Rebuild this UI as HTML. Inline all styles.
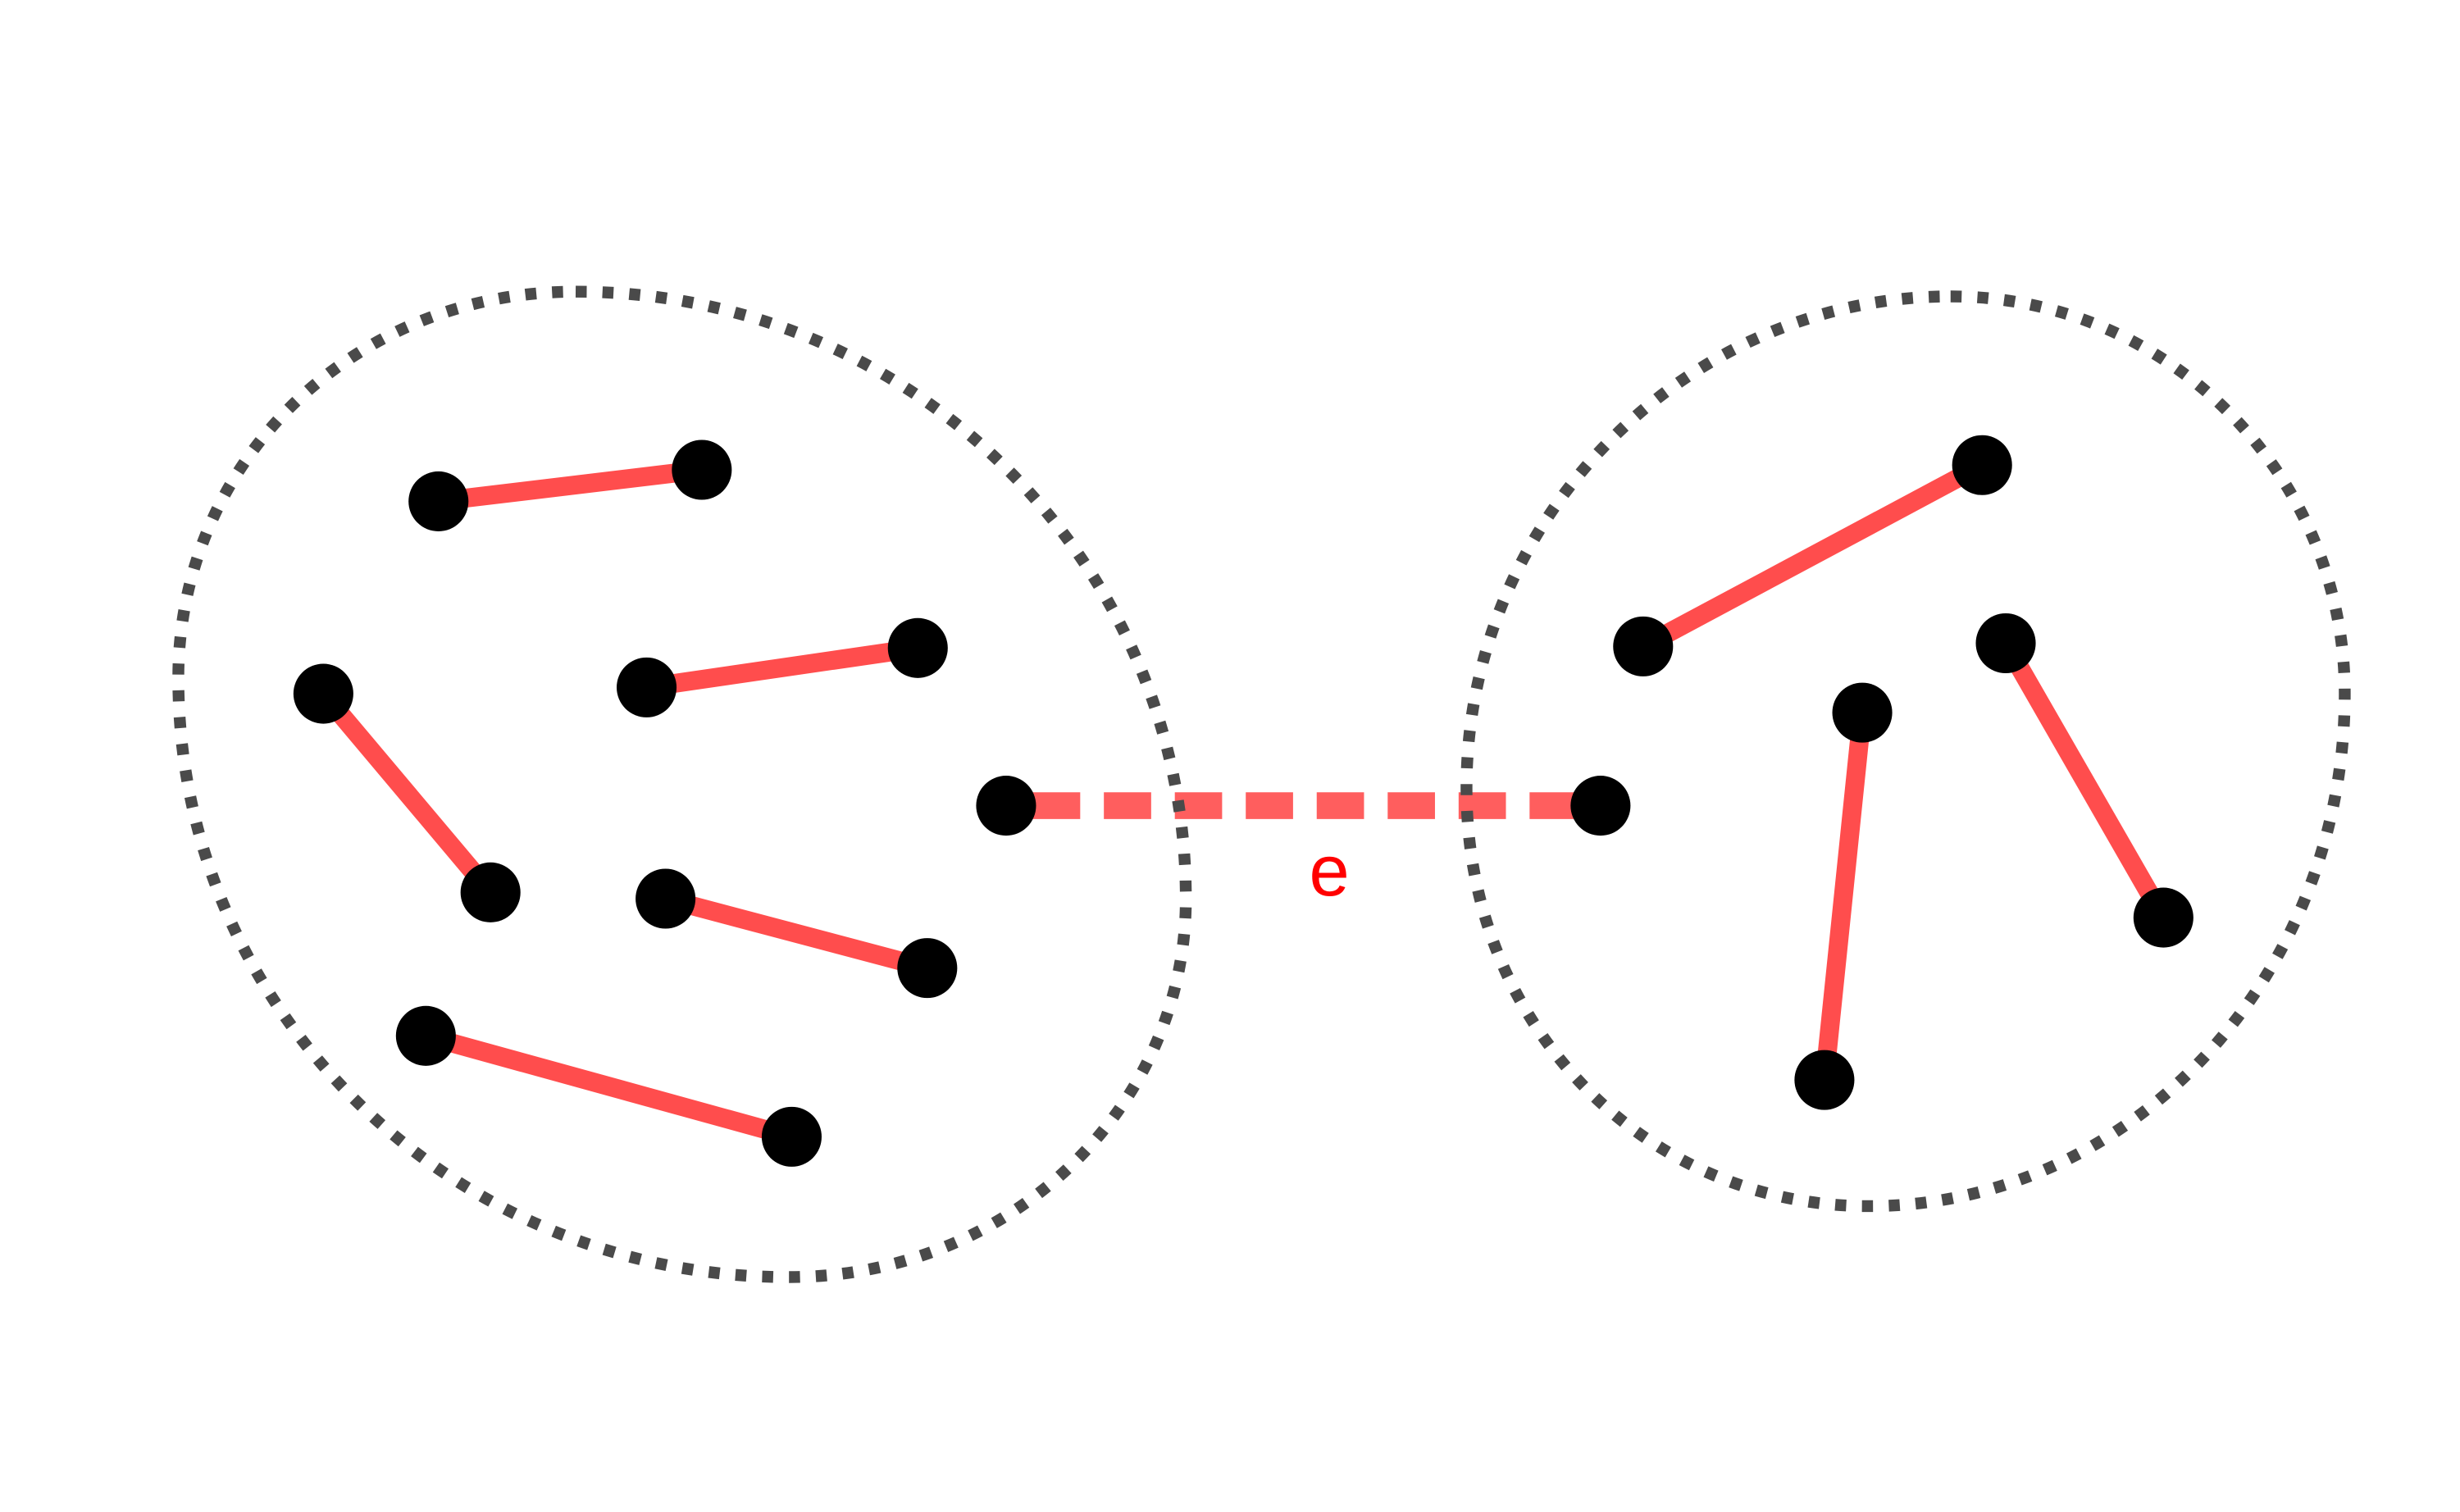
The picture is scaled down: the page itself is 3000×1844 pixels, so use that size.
<!DOCTYPE html>
<html><head><style>html,body{margin:0;padding:0;background:#fff}svg{display:block}</style></head>
<body>
<svg width="3000" height="1844" viewBox="0 0 1560 959" xmlns="http://www.w3.org/2000/svg">
<rect width="1560" height="959" fill="#fff"/>
<g stroke="#ff4d4d" stroke-width="12" stroke-linecap="butt">
<line x1="278" y1="318" x2="445" y2="298"/>
<line x1="205" y1="440" x2="311" y2="566"/>
<line x1="410" y1="436" x2="582" y2="411"/>
<line x1="422" y1="570" x2="588" y2="614"/>
<line x1="270" y1="657" x2="502" y2="721"/>
<line x1="1042" y1="410" x2="1257" y2="295"/>
<line x1="1181" y1="452" x2="1157" y2="685"/>
<line x1="1272" y1="408" x2="1372" y2="582"/>
<line x1="655" y1="511" x2="1000" y2="511" stroke-width="17" stroke-dasharray="30 15" opacity="0.9"/>
</g>
<g fill="none" stroke="#4a4a4a" stroke-width="7.5" stroke-dasharray="7 10">
<path d="M365,185 C579,185 752,357 752,570 C752,703 640,810 500,810 C286,810 113,640 113,430 C113,295 222,185 365,185 Z"/>
<path d="M1237,188 C1375,188 1487,301 1487,440 C1487,619 1352,765 1185,765 C1044,765 930,651 930,500 C930,328 1070,188 1237,188 Z"/>
</g>
<g fill="#000">
<circle cx="278" cy="318" r="19"/><circle cx="445" cy="298" r="19"/>
<circle cx="205" cy="440" r="19"/><circle cx="311" cy="566" r="19"/>
<circle cx="410" cy="436" r="19"/><circle cx="582" cy="411" r="19"/>
<circle cx="422" cy="570" r="19"/><circle cx="588" cy="614" r="19"/>
<circle cx="270" cy="657" r="19"/><circle cx="502" cy="721" r="19"/>
<circle cx="638" cy="511" r="19"/><circle cx="1015" cy="511" r="19"/>
<circle cx="1042" cy="410" r="19"/><circle cx="1257" cy="295" r="19"/>
<circle cx="1181" cy="452" r="19"/><circle cx="1157" cy="685" r="19"/>
<circle cx="1272" cy="408" r="19"/><circle cx="1372" cy="582" r="19"/>
</g>
<text x="843" y="568" fill="#ff0000" font-family="Liberation Sans, sans-serif" font-size="46" text-anchor="middle">e</text>
</svg>
</body></html>
